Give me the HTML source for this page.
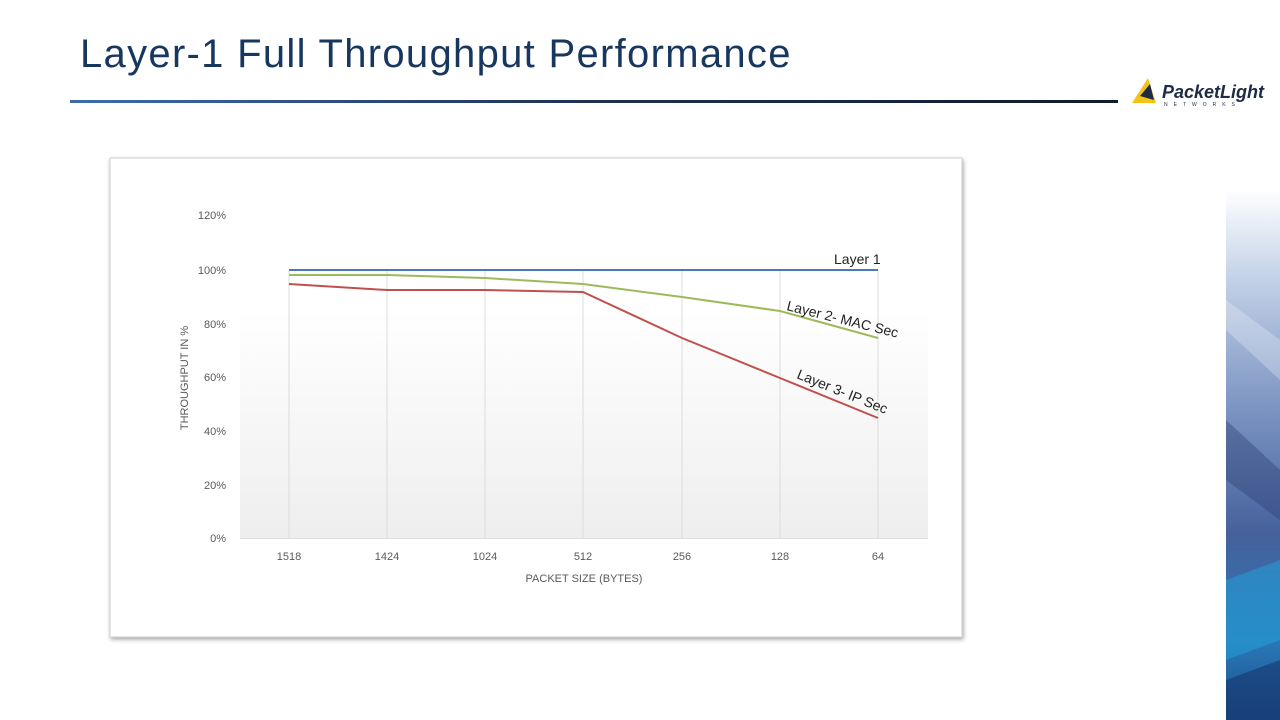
<!DOCTYPE html>
<html><head><meta charset="utf-8"><style>
body{margin:0;width:1280px;height:720px;background:#fff;overflow:hidden;font-family:"Liberation Sans",sans-serif;position:relative}
.title{position:absolute;left:80px;top:32px;font-size:40px;color:#17375e;letter-spacing:1.3px}
</style></head><body>
<div class="title">Layer-1 Full Throughput Performance</div>
<svg width="1280" height="720" style="position:absolute;left:0;top:0">
<defs>
<linearGradient id="ul" x1="0" x2="1"><stop offset="0" stop-color="#3b6ea8"/><stop offset="0.5" stop-color="#1f3050"/><stop offset="1" stop-color="#111a2e"/></linearGradient>
<linearGradient id="pg" x1="0" y1="0" x2="0" y2="1"><stop offset="0" stop-color="#fff"/><stop offset="0.15" stop-color="#fff"/><stop offset="1" stop-color="#eeeeee"/></linearGradient>
<linearGradient id="side" x1="0" y1="0" x2="0" y2="1"><stop offset="0" stop-color="#fff"/><stop offset="0.15" stop-color="#c9d6ea"/><stop offset="0.4" stop-color="#7f97c4"/><stop offset="0.65" stop-color="#45619c"/><stop offset="0.85" stop-color="#2a78b8"/><stop offset="1" stop-color="#1c4f8a"/></linearGradient>
<filter id="sh" x="-5%" y="-5%" width="110%" height="110%"><feDropShadow dx="1" dy="2" stdDeviation="2" flood-color="#000" flood-opacity="0.35"/></filter>
</defs>
<rect x="70" y="100" width="1048" height="3" fill="url(#ul)"/>
<polygon points="1132,103 1148,78 1156,103" fill="#f2c318"/>
<polygon points="1140,96 1150,84 1154,100" fill="#1f2a44"/>
<text x="1162" y="98" font-size="18" font-weight="bold" font-style="italic" fill="#1f2a44">PacketLight</text>
<text x="1164" y="106" font-size="5" fill="#1f2a44" letter-spacing="6">NETWORKS</text>
<rect x="1226" y="190" width="54" height="530" fill="url(#side)"/>
<polygon points="1226,300 1280,340 1280,380 1226,330" fill="#ffffff" opacity="0.25"/>
<polygon points="1226,420 1280,470 1280,520 1226,480" fill="#2d3f73" opacity="0.4"/>
<polygon points="1226,580 1280,560 1280,640 1226,660" fill="#21a3dc" opacity="0.5"/>
<polygon points="1226,680 1280,660 1280,720 1226,720" fill="#16366e" opacity="0.6"/>
<rect x="110" y="158" width="852" height="479" fill="#fff" stroke="#d0d0d0" filter="url(#sh)"/>
<rect x="240" y="270" width="688" height="268" fill="url(#pg)"/>
<g stroke="#dcdcdc" stroke-width="1">
<line x1="289" y1="270" x2="289" y2="538"/><line x1="387" y1="270" x2="387" y2="538"/><line x1="485" y1="270" x2="485" y2="538"/><line x1="583" y1="270" x2="583" y2="538"/><line x1="682" y1="270" x2="682" y2="538"/><line x1="780" y1="270" x2="780" y2="538"/><line x1="878" y1="270" x2="878" y2="538"/>
<line x1="240" y1="538.5" x2="928" y2="538.5"/>
</g>
<g font-size="11" fill="#595959" text-anchor="end">
<text x="226" y="219">120%</text><text x="226" y="274">100%</text><text x="226" y="328">80%</text><text x="226" y="381">60%</text><text x="226" y="435">40%</text><text x="226" y="489">20%</text><text x="226" y="542">0%</text>
</g>
<g font-size="11" fill="#595959" text-anchor="middle">
<text x="289" y="560">1518</text><text x="387" y="560">1424</text><text x="485" y="560">1024</text><text x="583" y="560">512</text><text x="682" y="560">256</text><text x="780" y="560">128</text><text x="878" y="560">64</text>
<text x="584" y="582">PACKET SIZE (BYTES)</text>
<text transform="translate(188,378) rotate(-90)">THROUGHPUT IN %</text>
</g>
<polyline points="289,270 878,270" fill="none" stroke="#4a7ab5" stroke-width="2"/>
<polyline points="289,275 387,275 485,278 583,284 682,297 780,311 878,338" fill="none" stroke="#9bbb59" stroke-width="2"/>
<polyline points="289,284 387,290 485,290 583,292 682,338 780,378 878,418" fill="none" stroke="#c0504d" stroke-width="2"/>
<g font-size="14" fill="#222">
<text x="834" y="264">Layer 1</text>
<text x="786" y="310" transform="rotate(14 786 310)">Layer 2- MAC Sec</text>
<text x="796" y="378" transform="rotate(22 796 378)">Layer 3- IP Sec</text>
</g>
</svg>
</body></html>
